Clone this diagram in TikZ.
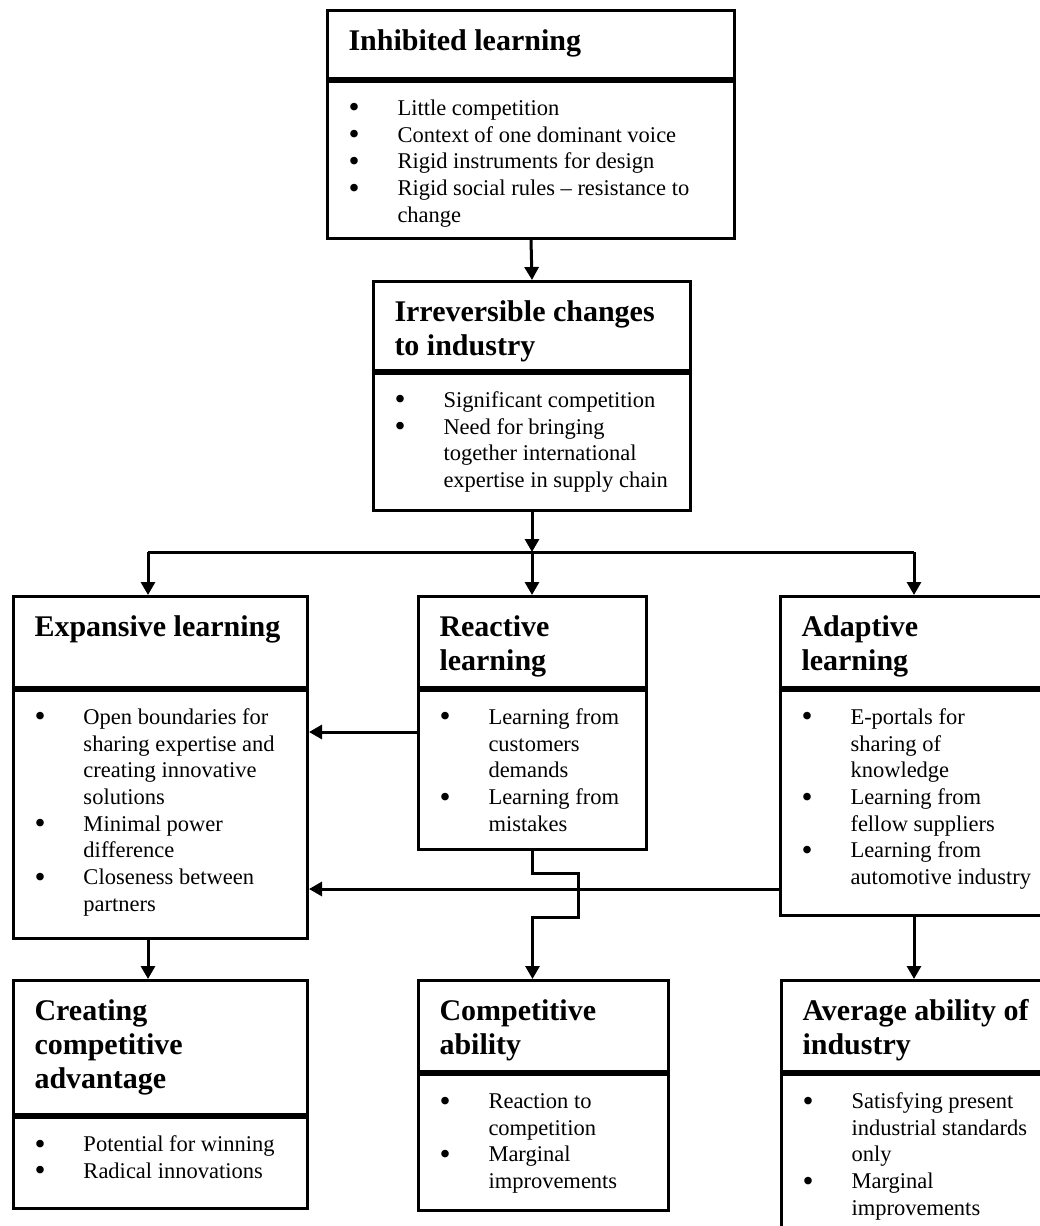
\documentclass[tikz,border=0pt]{standalone}
\usepackage{fontspec}
\usepackage{graphicx}
\setmainfont{Liberation Serif}
\usetikzlibrary{arrows.meta,positioning}

\newcommand{\headfont}{\fontsize{30}{34}\selectfont\bfseries}
\newcommand{\bodyfont}{\fontsize{22.5}{26.7}\selectfont}
% title part and list part of a box
\newcommand{\headtext}[3]{\parbox[t][#1][t]{#2}{\headfont\parindent=0pt\leftskip=21pt\rightskip=0pt plus 1fil\vspace*{16.2pt}\strut#3}}
\newcommand{\listtext}[3]{\parbox[t][#1][t]{#2}{\bodyfont\parindent=0pt\leftskip=21pt\rightskip=0pt plus 1fil\vspace*{15.3pt}#3}}
\newcommand{\dotmark}{\raisebox{-2.5pt}{\scalebox{1.4}{\textbullet}}}
\newcommand{\itm}{\par\hangindent=49pt\hangafter=1\strut\makebox[49pt][l]{\dotmark}}

\begin{document}
\begin{tikzpicture}[
    x=1pt, y=-1pt,
    >={Triangle[width=14pt,length=13pt]},
    boxpart/.style={draw, line width=3pt, inner sep=0pt, anchor=north west},
    link/.style={line width=3pt}
]
\useasboundingbox (0,0) rectangle (1039,1226);

% top row
\node[boxpart] (inh) at (326,9) {\headtext{68pt}{407pt}{Inhibited learning}};
\node[boxpart] (inhb) at (inh.south west) {\listtext{157pt}{407pt}{%
  \itm Little competition
  \itm Context of one dominant voice
  \itm Rigid instruments for design
  \itm Rigid social rules -- resistance to\newline change}};

\node[boxpart] (irr) at (372,280) {\headtext{89pt}{317pt}{Irreversible changes\newline to industry}};
\node[boxpart] (irrb) at (irr.south west) {\listtext{137pt}{317pt}{%
  \itm Significant competition
  \itm Need for bringing\newline together international\newline expertise in supply chain}};

% middle row
\node[boxpart] (exp) at (12,595) {\headtext{91pt}{294pt}{Expansive learning}};
\node[boxpart] (expb) at (exp.south west) {\listtext{248pt}{294pt}{%
  \itm Open boundaries for\newline sharing expertise and\newline creating innovative\newline solutions
  \itm Minimal power\newline difference
  \itm Closeness between\newline partners}};

\node[boxpart] (rea) at (417,595) {\headtext{91pt}{228pt}{Reactive\newline learning}};
\node[boxpart] (reab) at (rea.south west) {\listtext{159pt}{228pt}{%
  \itm Learning from\newline customers\newline demands
  \itm Learning from\newline mistakes}};

\node[boxpart] (ada) at (779,595) {\headtext{91pt}{290pt}{Adaptive\newline learning}};
\node[boxpart] (adab) at (ada.south west) {\listtext{225pt}{290pt}{%
  \itm E-portals for\newline sharing of\newline knowledge
  \itm Learning from\newline fellow suppliers
  \itm Learning from\newline automotive industry}};

% bottom row
\node[boxpart] (cre) at (12,979) {\headtext{134pt}{294pt}{Creating\newline competitive\newline advantage}};
\node[boxpart] (creb) at (cre.south west) {\listtext{91pt}{294pt}{%
  \itm Potential for winning
  \itm Radical innovations}};

\node[boxpart] (com) at (417,979) {\headtext{91pt}{250pt}{Competitive\newline ability}};
\node[boxpart] (comb) at (com.south west) {\listtext{136pt}{250pt}{%
  \itm Reaction to\newline competition
  \itm Marginal\newline improvements}};

\node[boxpart] (avg) at (780,979) {\headtext{91pt}{290pt}{Average ability of\newline industry}};
\node[boxpart] (avgb) at (avg.south west) {\listtext{200pt}{290pt}{%
  \itm Satisfying present\newline industrial standards\newline only
  \itm Marginal\newline improvements}};

% branching line
\coordinate (busl) at (148,552);
\coordinate (busr) at (914,552);
\coordinate (bus) at (irrb.south |- busl);

\draw[link,->] (inhb.south) -- (irr.north);
\draw[link,->] (irrb.south) -- (bus);
\draw[link] (busl) -- (busr);
\draw[link,->] (busl) -- (busl |- exp.north);
\draw[link,->] (bus) -- (bus |- rea.north);
\draw[link,->] (busr) -- (busr |- ada.north);

% into expansive learning
\draw[link,->] (reab.west |- 0,732) -- (expb.east |- 0,732);
\draw[link,->] (adab.west |- 0,889) -- (expb.east |- 0,889);

% down to the outcomes
\draw[link,->] (expb.south -| busl) -- (busl |- cre.north);
\draw[link,->] (reab.south) -- ++(0,22) -- ++(46,0) -- ++(0,44) -- ++(-46,0) -- (reab.south |- com.north);
\draw[link,->] (adab.south -| busr) -- (busr |- avg.north);

\end{tikzpicture}
\end{document}
